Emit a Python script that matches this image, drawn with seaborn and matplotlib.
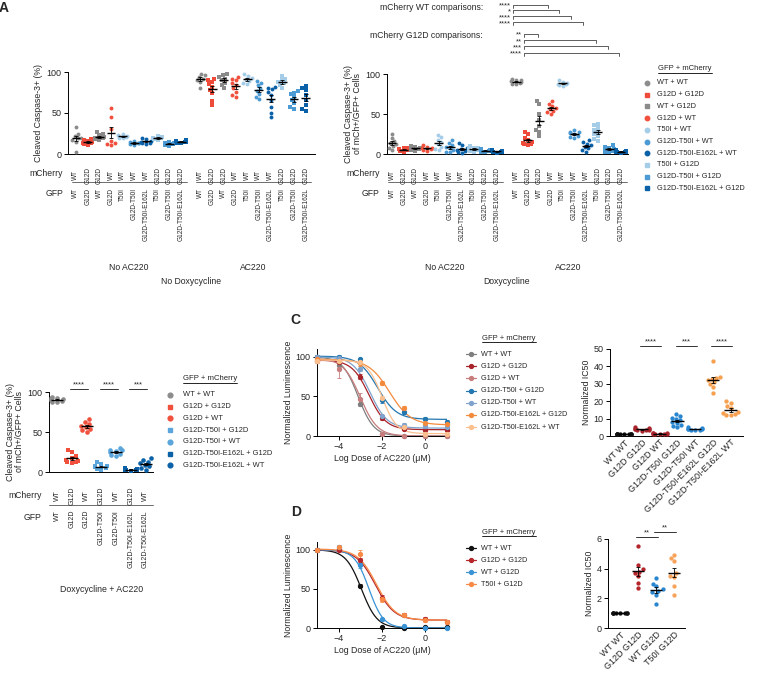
import numpy as np
import pandas as pd
import matplotlib
matplotlib.use("Agg")
import matplotlib.pyplot as plt
import matplotlib.transforms as mtransforms
import seaborn as sns

sns.set_theme(style="ticks")
plt.rcParams['font.family'] = ['Liberation Sans', 'DejaVu Sans']
plt.rcParams['axes.linewidth'] = 0.7

W, H = 764, 676

# ---------------- data: panel A (scatter of cleaved caspase-3) ----------------
A_COND = ["WT + WT", "G12D + G12D", "WT + G12D", "G12D + WT", "T50I + WT",
          "G12D-T50I + WT", "G12D-T50I-E162L + WT", "T50I + G12D",
          "G12D-T50I + G12D", "G12D-T50I-E162L + G12D"]
A_MCH = ["WT", "G12D", "G12D", "WT", "WT", "WT", "WT", "G12D", "G12D", "G12D"]
A_GFP = ["WT", "G12D", "WT", "G12D", "T50I", "G12D-T50I", "G12D-T50I-E162L",
         "T50I", "G12D-T50I", "G12D-T50I-E162L"]
A_COLORS = ["#8c8c8c", "#ef4b3a", "#8a8a8a", "#f0503c", "#a5cde8",
            "#4c9bd4", "#0b61a8", "#a5cde8", "#4c9bd4", "#0b61a8"]

NODOX_NOAC = [[33, 25, 22, 20, 19, 17, 15, 2], [18, 17, 16, 15, 14, 13, 12, 11],
              [27, 25, 23, 21, 20, 19, 18, 17], [56, 45, 30, 16, 13, 12, 11],
              [24, 23, 22, 21, 20, 19], [16, 15, 14, 13, 12, 11],
              [19, 18, 16, 15, 14, 13, 12], [22, 21, 20, 19, 18, 17],
              [15, 14, 13, 12, 11, 10], [17, 16, 15, 15, 14, 13]]
NODOX_AC = [[98, 96, 94, 92, 90, 88, 80], [92, 90, 88, 85, 82, 78, 74, 65, 60],
            [98, 96, 94, 92, 90, 87, 84, 80], [94, 92, 90, 87, 84, 80, 76, 72, 70],
            [97, 95, 93, 91, 89, 87, 85], [89, 87, 84, 80, 77, 73, 70, 67],
            [82, 81, 79, 76, 72, 66, 57, 50, 45], [95, 92, 90, 88, 86, 84, 80],
            [77, 75, 73, 70, 66, 62, 57, 55], [83, 81, 78, 72, 66, 60, 55, 53]]
DOX_NOAC = [[25, 20, 16, 14, 12, 10, 8, 5], [8, 7, 6, 5, 5, 4, 3],
            [10, 9, 8, 7, 6, 5, 4], [11, 9, 8, 7, 6, 5, 4],
            [24, 21, 18, 15, 12, 9, 6, 5], [17, 14, 11, 9, 7, 5, 3, 2],
            [14, 11, 8, 6, 5, 4, 2, 1], [10, 8, 7, 6, 5, 4, 3],
            [6, 5, 5, 4, 4, 3, 2], [5, 4, 4, 3, 3, 2, 1]]
DOX_AC = [[94, 93, 92, 91, 90, 89, 88, 87], [28, 25, 20, 17, 15, 14, 13, 12, 11],
          [66, 62, 50, 42, 35, 30, 27, 22], [66, 63, 60, 58, 56, 54, 52, 50],
          [92, 90, 89, 88, 87, 86, 85], [30, 28, 27, 26, 25, 23, 21, 20],
          [17, 15, 13, 11, 9, 7, 5, 3], [38, 36, 33, 30, 28, 25, 22, 19, 16],
          [11, 9, 8, 6, 5, 4, 3, 2], [5, 4, 4, 3, 3, 2, 2, 1]]

# ---------------- data: panel B (dox + AC220) ----------------
B_COND = ["WT + WT", "G12D + G12D", "G12D + WT", "G12D-T50I + G12D",
          "G12D-T50I + WT", "G12D-T50I-E162L + G12D", "G12D-T50I-E162L + WT"]
B_MCH = ["WT", "G12D", "WT", "G12D", "WT", "G12D", "WT"]
B_GFP = ["WT", "G12D", "G12D", "G12D-T50I", "G12D-T50I", "G12D-T50I-E162L", "G12D-T50I-E162L"]
B_COLORS = ["#8c8c8c", "#f0503c", "#f0503c", "#5aa5dc", "#5aa5dc", "#0b61a8", "#0b61a8"]
B_VALUES = [[94, 93, 92, 91, 90, 89, 88, 87], [28, 25, 20, 17, 15, 14, 13, 12, 11],
            [66, 63, 60, 58, 56, 54, 52, 50], [12, 10, 8, 7, 6, 5, 4, 3],
            [30, 28, 27, 26, 25, 23, 21, 20], [5, 4, 4, 3, 3, 2, 2, 1],
            [17, 15, 13, 11, 9, 7, 5, 3]]
B_SIG = [(1, 2, "****"), (3, 4, "****"), (5, 6, "***")]

# ---------------- data: panel C ----------------
DOSE = [-5, -4, -3, -2, -1, 0, 1]
C_LABELS = ["WT + WT", "G12D + G12D", "G12D + WT", "G12D-T50I + G12D",
            "G12D-T50I + WT", "G12D-T50I-E162L + G12D", "G12D-T50I-E162L + WT"]
C_COLORS = ["#7f7f7f", "#a8232a", "#c77d7d", "#2377b0", "#7fa3cc", "#f48a3c", "#fbc08e"]
C_RESP = [[100, 90, 40, 2, 0, 0, 0], [95, 93, 75, 23, 9, 8, 7],
          [95, 85, 47, 3, 0, 0, 0], [100, 100, 97, 45, 30, 22, 18],
          [100, 98, 85, 25, 14, 13, 11], [97, 95, 92, 67, 35, 16, 15],
          [95, 95, 93, 48, 12, 3, 3]]
C_ERR = [[1, 3, 2, 1, 1, 1, 1], [2, 3, 3, 3, 2, 1, 1], [2, 12, 8, 2, 1, 1, 1],
         [2, 3, 2, 3, 2, 2, 2], [2, 2, 3, 2, 2, 2, 2], [2, 3, 3, 3, 3, 2, 2],
         [2, 2, 2, 3, 2, 1, 1]]
# fitted curves: top, bottom, logIC50, hill
C_FIT = [(100, 0, -3.1, 1.2), (96, 8, -2.6, 1.1), (98, 0, -3.0, 1.1),
         (101, 21, -2.2, 1.0), (100, 10, -2.55, 1.1), (97, 14, -1.65, 0.9),
         (96, 3, -2.0, 1.3)]

C_IC50_LABELS = ["WT WT", "G12D G12D", "G12D WT", "G12D-T50I G12D", "G12D-T50I WT",
                 "G12D-T50I-E162L G12D", "G12D-T50I-E162L WT"]
C_IC50_COLORS = ["#111111", "#a8232a", "#a8232a", "#2b86d0", "#2b86d0", "#f7a050", "#f7a050"]
C_IC50 = [[1.0] * 10, [5.0, 4.5, 4.2, 4.0, 3.8, 3.6, 3.5, 3.3, 3.0],
          [1.8, 1.6, 1.5, 1.4, 1.3, 1.2, 1.1, 1.0],
          [12.5, 11.5, 10.5, 10, 9, 8, 7.5, 6.5, 5.5, 5],
          [5.0, 4.6, 4.3, 4.0, 3.8, 3.6, 3.4, 3.2],
          [43, 34, 33.5, 33, 32, 31, 30, 28, 24.5],
          [20, 19, 17.5, 16, 14, 13, 12.5, 12, 12]]
C_SIG = [(1, 2, "****"), (3, 4, "***"), (5, 6, "****")]

# ---------------- data: panel D ----------------
D_LABELS = ["WT + WT", "G12D + G12D", "WT + G12D", "T50I + G12D"]
D_COLORS = ["#111111", "#b5262b", "#3a93d4", "#f88a45"]
D_RESP = [[100, 101, 54, 1, 0, 1, 1], [100, 100, 87, 38, 17, 12, 8],
          [100, 103, 80, 11, 2, 0, 0], [100, 103, 95, 37, 16, 10, 8]]
D_ERR = [[1, 3, 2, 1, 1, 1, 1], [1, 2, 3, 4, 2, 2, 2], [1, 3, 3, 2, 1, 1, 1],
         [1, 2, 5, 4, 2, 2, 2]]
D_FIT = [(100, 0, -2.95, 1.2), (100, 10, -2.3, 1.0), (100, 0, -2.6, 1.3),
         (101, 10, -2.25, 1.0)]

D_IC50_LABELS = ["WT WT", "G12D G12D", "WT G12D", "T50I G12D"]
D_IC50_COLORS = ["#111111", "#b5262b", "#2b86d0", "#f8a25a"]
D_IC50 = [[1.0] * 8, [5.55, 4.25, 3.95, 3.8, 3.7, 3.5, 3.05, 2.7],
          [3.4, 3.0, 2.8, 2.6, 2.5, 2.4, 2.25, 1.65],
          [4.95, 4.7, 4.5, 3.7, 3.5, 3.45, 2.85, 2.25]]
D_SIG = [(1, 2, "**"), (2, 3, "**")]

# ---------------- helpers ----------------
fig = plt.figure(figsize=(W / 100, H / 100), dpi=100)
PIX = mtransforms.Affine2D().scale(1 / W, -1 / H).translate(0, 1) + fig.transFigure
ov = fig.add_axes([0, 0, 1, 1], zorder=10)
ov.set_xlim(0, W)
ov.set_ylim(H, 0)
ov.axis('off')

TICK_FS = 6.5
SMALL_FS = 4.7


def px_axes(l, t, r, b):
    return fig.add_axes([l / W, 1 - b / H, (r - l) / W, (b - t) / H])


def style_axes(ax):
    sns.despine(ax=ax)
    ax.tick_params(axis='both', direction='out', length=3, width=0.7, color='black',
                   labelsize=TICK_FS, pad=1.5)
    for s in ['left', 'bottom']:
        ax.spines[s].set_color('black')


def blend(ax):
    return mtransforms.blended_transform_factory(ax.transData, PIX)


def dot_column(ax, pos, vals, color, marker, size, half):
    sns.swarmplot(x=[pos] * len(vals), y=vals, native_scale=True, orient='x',
                  color=color, marker=marker, size=size, linewidth=0, ax=ax)
    mean = np.mean(vals)
    sem = np.std(vals, ddof=1) / np.sqrt(len(vals)) if len(vals) > 1 else 0
    ax.hlines(mean, pos - half, pos + half, color='black', lw=1.0, zorder=6)
    ax.errorbar(pos, mean, yerr=sem, color='black', lw=0.6, capsize=1.6,
                capthick=0.6, zorder=6)


def finish_dots(ax):
    for c in ax.collections:
        c.set_clip_on(False)


def four_pl(x, top, bottom, logic50, hill):
    return bottom + (top - bottom) / (1 + 10 ** (hill * (x - logic50)))


def legend_text(x, y, text, fs):
    ov.text(x, y, text, fontsize=fs, va='center', ha='left')


def legend_title(x, y, text, fs):
    t = ov.text(x, y, text, fontsize=fs, va='center', ha='left')
    fig.canvas.draw()
    bb = t.get_window_extent(renderer=fig.canvas.get_renderer())
    ov.plot([bb.x0, bb.x1], [H - bb.y0 + 0.5] * 2, color='black', lw=0.6)


def bracket(ax, x1, x2, ypx, label, fs=5.5):
    tr = blend(ax)
    ax.plot([x1, x1, x2, x2], [ypx + 3, ypx, ypx, ypx + 3], color='#444444', lw=0.6,
            transform=tr, clip_on=False)
    ax.text(x1 - 0.15, ypx + 1.5, label, transform=tr, fontsize=fs, ha='right', va='center')


def sig_line(ax, x1, x2, ypx, label, fs=5.5):
    tr = blend(ax)
    ax.plot([x1 - 0.1, x2 + 0.1], [ypx, ypx], color='#333333', lw=0.7, transform=tr,
            clip_on=False)
    ax.text((x1 + x2) / 2, ypx - 1, label, transform=tr, fontsize=fs, ha='center', va='bottom')


def row_labels(ax, positions, mch, gfp, y_mch, y_line, y_gfp, groups):
    tr = blend(ax)
    for p, m, g in zip(positions, mch, gfp):
        ax.text(p, y_mch, m, transform=tr, rotation=90, fontsize=SMALL_FS,
                ha='center', va='center')
        ax.text(p, y_gfp, g, transform=tr, rotation=90, fontsize=SMALL_FS,
                ha='center', va='top')
    for g0, g1 in groups:
        ax.plot([g0, g1], [y_line, y_line], color='#555555', lw=0.6, transform=tr,
                clip_on=False)


# ---------------- panel A ----------------
GAP = 10.65
pos_a = list(range(10)) + [GAP + i for i in range(10)]
markers_a = ['o' if m == "WT" else 's' for m in A_MCH]

ax_a1 = px_axes(68, 72, 315, 154)
ax_a2 = px_axes(387, 74, 628, 154)
for ax, no_ac, ac in [(ax_a1, NODOX_NOAC, NODOX_AC), (ax_a2, DOX_NOAC, DOX_AC)]:
    for i in range(10):
        dot_column(ax, pos_a[i], no_ac[i], A_COLORS[i], markers_a[i], 2.8, 0.38)
        dot_column(ax, pos_a[10 + i], ac[i], A_COLORS[i], markers_a[i], 2.8, 0.38)
    finish_dots(ax)
    ax.set_ylim(0, 100)
    ax.set_yticks([0, 50, 100])
    ax.set_xticks([])
    ax.set_xlabel("")
    style_axes(ax)
    row_labels(ax, pos_a, A_MCH * 2, A_GFP * 2, 175, 182, 188,
               [(-0.35, 9.5), (GAP - 0.35, GAP + 9.5)])
    tr = blend(ax)
    ax.text(4.5, 267, "No AC220", transform=tr, fontsize=6.2, ha='center', va='center')
    ax.text(GAP + 4.5, 267, "AC220", transform=tr, fontsize=6.2, ha='center', va='center')

ax_a1.set_xlim(-0.68, 20.45)
ax_a2.set_xlim(-0.43, 20.25)
ax_a1.set_ylabel("Cleaved Caspase-3+ (%)", fontsize=6.3, labelpad=3)
ax_a2.set_ylabel("Cleaved Caspase-3+ (%)\nof mCh+/GFP+ Cells", fontsize=6.3,
                 labelpad=3, linespacing=1.0)
ax_a1.text(GAP / 2 + 4.5, 282, "No Doxycycline", transform=blend(ax_a1), fontsize=6.2,
           ha='center', va='center')
ax_a2.text(GAP / 2 + 4.5, 282, "Doxycycline", transform=blend(ax_a2), fontsize=6.2,
           ha='center', va='center')
for ax, xr in [(ax_a1, 63), (ax_a2, 380)]:
    ov.text(xr, 174, "mCherry", fontsize=6.2, ha='right', va='center')
    ov.text(xr, 193, "GFP", fontsize=6.2, ha='right', va='center')

# comparisons above the doxycycline panel
ov.text(483, 7, "mCherry WT comparisons:", fontsize=6.2, ha='right', va='center')
ov.text(483, 36, "mCherry G12D comparisons:", fontsize=6.2, ha='right', va='center')
wt0 = GAP + 0
for tgt, ypx, lab in [(3, 4.5, "****"), (4, 10, "*"), (5, 16, "****"), (6, 22, "****")]:
    bracket(ax_a2, wt0 - 0.3, GAP + tgt - 0.3, ypx, lab)
g0 = GAP + 1
for tgt, ypx, lab in [(2, 33.5, "**"), (7, 40, "**"), (8, 46, "***"), (9, 52.5, "****")]:
    bracket(ax_a2, g0 - 0.35, GAP + tgt - 0.15, ypx, lab)

ov.text(-1, 8, "A", fontsize=10, fontweight='bold', ha='left', va='center')

# legend A
legend_title(658, 69, "GFP + mCherry", 5.5)
for i, lab in enumerate(A_COND):
    y = 83 + i * 11.7
    ov.plot(647, y, marker=markers_a[i], color=A_COLORS[i], ms=3.2, ls='none')
    legend_text(657, y, lab, 5.3)

# ---------------- panel B ----------------
ax_b = px_axes(49, 392, 153, 472)
markers_b = ['o' if m == "WT" else 's' for m in B_MCH]
pos_b = list(range(7))
for i in range(7):
    dot_column(ax_b, pos_b[i], B_VALUES[i], B_COLORS[i], markers_b[i], 3.3, 0.4)
finish_dots(ax_b)
ax_b.set_ylim(0, 100)
ax_b.set_xlim(-0.55, 6.5)
ax_b.set_yticks([0, 50, 100])
ax_b.set_xticks([])
style_axes(ax_b)
ax_b.set_ylabel("Cleaved Caspase-3+ (%)\nof mCh+/GFP+ Cells", fontsize=6.3, labelpad=3,
                linespacing=1.0)
tr = blend(ax_b)
for p, m, g in zip(pos_b, B_MCH, B_GFP):
    ax_b.text(p, 496, m, transform=tr, rotation=90, fontsize=5.0, ha='center', va='center')
    ax_b.text(p, 510, g, transform=tr, rotation=90, fontsize=5.0, ha='center', va='top')
ax_b.plot([-0.55, 6.5], [505, 505], color='#555555', lw=0.6, transform=tr, clip_on=False)
ov.text(42, 496, "mCherry", fontsize=6.2, ha='right', va='center')
ov.text(42, 517, "GFP", fontsize=6.2, ha='right', va='center')
ax_b.text(3, 590, "Doxycycline + AC220", transform=tr, fontsize=6.3, ha='center', va='center')
for a, b, lab in B_SIG:
    sig_line(ax_b, a, b, 389, lab)

legend_title(183, 379, "GFP + mCherry", 5.6)
for i, lab in enumerate(B_COND):
    y = 395 + i * 11.7
    ov.plot(170, y, marker=markers_b[i], color=B_COLORS[i], ms=3.4, ls='none')
    legend_text(183, y, lab, 5.4)

# ---------------- panel C / D curves ----------------
xfit = np.linspace(-5, 1, 200)


def curve_panel(ax, labels, colors, resp, err, fits):
    for lab, col, r, e, f in zip(labels, colors, resp, err, fits):
        sns.lineplot(x=xfit, y=four_pl(xfit, *f), color=col, lw=0.9, ax=ax)
        ax.errorbar(DOSE, r, yerr=e, fmt='o', color=col, ms=2.8, elinewidth=0.6,
                    capsize=1.5, capthick=0.6, clip_on=False, zorder=5)
    ax.set_xlim(-5, 1)
    ax.set_ylim(0, 110)
    ax.set_xticks([-4, -2, 0])
    ax.set_yticks([0, 50, 100])
    style_axes(ax)
    ax.spines['left'].set_bounds(0, 110)
    ax.set_xlabel("Log Dose of AC220 (μM)", fontsize=6.3, labelpad=2)
    ax.set_ylabel("Normalized Luminescence", fontsize=6.3, labelpad=2)


ax_c = px_axes(317, 349, 447, 436)
curve_panel(ax_c, C_LABELS, C_COLORS, C_RESP, C_ERR, C_FIT)
ax_d = px_axes(317, 542, 447, 628)
curve_panel(ax_d, D_LABELS, D_COLORS, D_RESP, D_ERR, D_FIT)

ov.text(290, 320, "C", fontsize=10, fontweight='bold', ha='left', va='center')
ov.text(291, 512, "D", fontsize=10, fontweight='bold', ha='left', va='center')

legend_title(482, 338, "GFP + mCherry", 5.5)
for i, lab in enumerate(C_LABELS):
    y = 354 + i * 12.2
    ov.plot([466, 476], [y, y], color=C_COLORS[i], lw=0.9)
    ov.plot(471, y, marker='o', color=C_COLORS[i], ms=2.8)
    legend_text(481, y, lab, 5.2)

legend_title(482, 532, "GFP + mCherry", 5.5)
for i, lab in enumerate(D_LABELS):
    y = 548 + i * 12.0
    ov.plot([466, 476], [y, y], color=D_COLORS[i], lw=0.9)
    ov.plot(471, y, marker='o', color=D_COLORS[i], ms=2.8)
    legend_text(481, y, lab, 5.2)


# ---------------- IC50 panels ----------------
def ic50_panel(ax, labels, colors, vals, ylim, yticks, xlim):
    for i, v in enumerate(vals):
        dot_column(ax, i, v, colors[i], 'o', 3.1, 0.35)
    finish_dots(ax)
    ax.set_ylim(*ylim)
    ax.set_xlim(*xlim)
    ax.set_yticks(yticks)
    ax.set_xticks(range(len(labels)))
    ax.set_xticklabels(labels, rotation=45, ha='right', rotation_mode='anchor', fontsize=6.2)
    style_axes(ax)
    ax.tick_params(axis='x', length=0)
    ax.set_ylabel("Normalized IC50", fontsize=6.3, labelpad=2)
    ax.set_xlabel("")


ax_c2 = px_axes(610, 349, 743, 436)
ic50_panel(ax_c2, C_IC50_LABELS, C_IC50_COLORS, C_IC50, (0, 50), [0, 10, 20, 30, 40, 50],
           (-0.8, 6.7))
for a, b, lab in C_SIG:
    sig_line(ax_c2, a, b, 346, lab)

ax_d2 = px_axes(608, 539, 685, 628)
ic50_panel(ax_d2, D_IC50_LABELS, D_IC50_COLORS, D_IC50, (0, 6), [0, 2, 4, 6], (-0.67, 3.6))
sig_line(ax_d2, 1, 2, 537, D_SIG[0][2])
sig_line(ax_d2, 2, 3, 532, D_SIG[1][2])

fig.savefig("out.png", dpi=100)
